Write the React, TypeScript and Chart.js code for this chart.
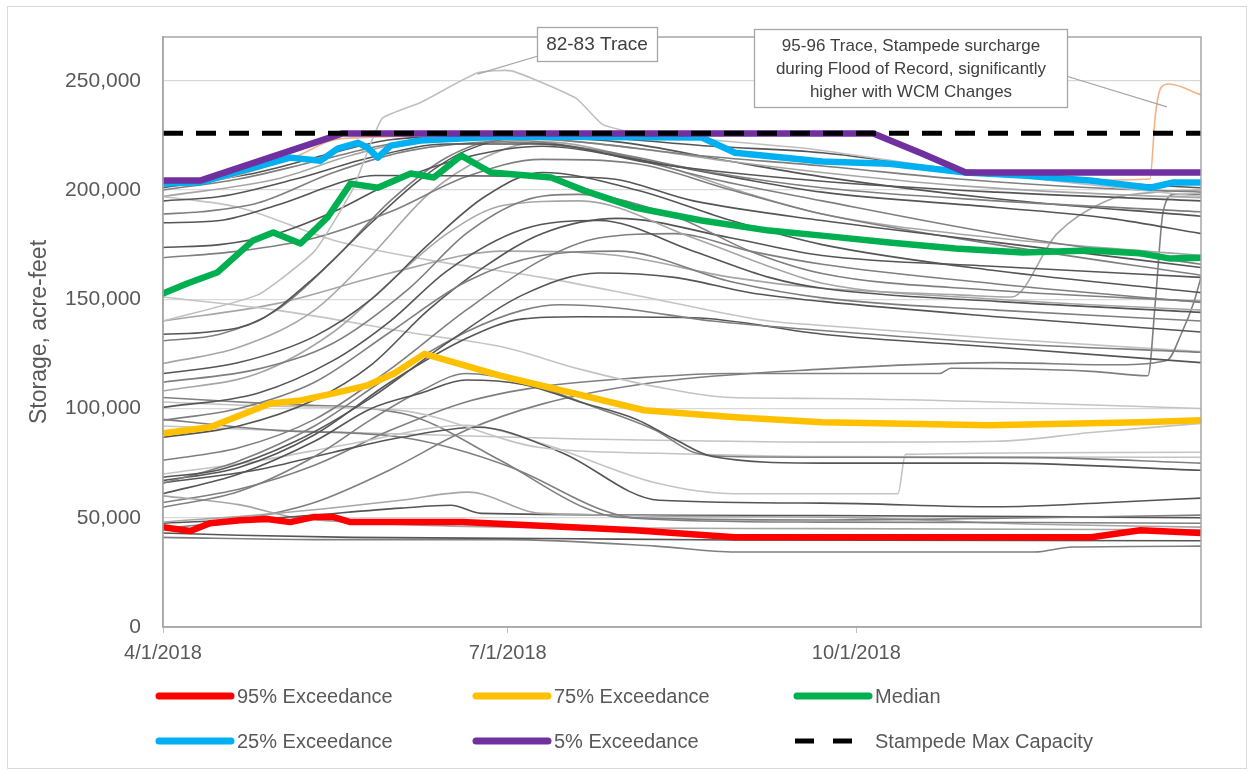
import React, { useEffect, useRef } from "react";
import { Chart, registerables } from "chart.js";
Chart.register(...registerables);

type Pt = [number, number];

// x: days after 4/1/2018, y: storage in thousand acre-feet
const xTickDays = [0, 91, 183];
const xTickLabels = ["4/1/2018", "7/1/2018", "10/1/2018"];
const yTickValues = [0, 50, 100, 150, 200, 250];
const yTickLabels = ["0", "50,000", "100,000", "150,000", "200,000", "250,000"];

const capacity: Pt[] = [[0, 226], [274, 226]];

const p95: Pt[] = [[0, 45.7], [7.2, 43.9], [12.4, 47.5], [20.4, 48.9], [27.5, 49.4], [33.6, 48], [39.7, 50.3], [45, 50.3], [49.5, 48], [79, 48], [124.5, 44.3], [151, 41.1], [245, 41.1], [258, 44.3], [274, 43]];
const p75: Pt[] = [[0, 88.6], [12.4, 91.4], [20.4, 96.9], [28.3, 102.3], [36.3, 103.7], [45, 106.9], [54, 110.6], [61, 116], [69, 125], [89, 115], [127, 99.2], [151, 96], [174, 93.7], [218, 92.3], [258, 93.7], [274, 94.6]];
const median: Pt[] = [[0, 152.6], [6.4, 157.2], [14.3, 162.2], [23.8, 176.9], [29.1, 180.5], [36.3, 175.5], [43.4, 187.4], [49.5, 202.9], [56.7, 201], [65.4, 207.5], [71.5, 205.7], [78.7, 215.7], [86.6, 208], [102.5, 205.7], [111.2, 199.7], [124.5, 192], [142.2, 186], [160, 181.4], [174, 179.1], [191.7, 176], [209.2, 173.2], [227, 171.4], [244.7, 172.3], [258, 171], [265.9, 168.6], [274, 169]];
const p25: Pt[] = [[0, 203], [9.8, 203.5], [33.6, 214.8], [41.6, 213.4], [46.1, 218.9], [51.4, 221.6], [54, 219.4], [56.7, 214.8], [60.1, 220.3], [68, 222.6], [89.2, 224.5], [142.2, 224], [151, 217], [174, 213], [191.7, 212], [211.9, 208], [227, 206.6], [244.7, 204.3], [260.6, 201], [266.7, 203.4], [274, 203.4]];
const p5: Pt[] = [[0, 204.3], [9.8, 204.3], [47.2, 225.8], [187.5, 225.8], [200.5, 216.6], [211.9, 208], [274, 208]];

const trace9596: Pt[] = [[0, 203], [10, 203.5], [34, 214.5], [47, 223.5], [90, 225], [140, 224.5], [151, 217.5], [174, 213.5], [212, 208.5], [245, 204.5], [260.5, 205], [262, 235], [263.5, 247], [265.5, 248.5], [274, 243.5]];
const trace8283: Pt[] = [[0, 140], [25, 152], [40, 172], [50, 200], [55, 222], [58, 233], [68, 240], [83, 253.6], [92, 254.5], [109, 242], [116, 230], [125, 226], [170, 219], [210, 209], [274, 197]];

const g01: Pt[] = [[0, 201], [25, 208], [45, 217], [60, 223], [90, 225], [115, 224], [145, 220], [174, 217], [210, 209], [245, 204], [274, 201]];
const g02: Pt[] = [[0, 200], [20, 205], [40, 213], [60, 221], [85, 225], [110, 222], [140, 216], [174, 211], [210, 205], [245, 201], [274, 199]];
const g03: Pt[] = [[0, 197], [30, 205], [50, 216], [70, 223], [100, 223], [125, 219], [150, 213], [174, 208], [210, 202], [250, 198], [274, 196.5]];
const g04: Pt[] = [[0, 195], [15, 197], [35, 205], [55, 215], [75, 221], [100, 221], [130, 212], [174, 204], [220, 199], [274, 195]];
const g05: Pt[] = [[0, 189], [10, 190], [25, 194], [45, 208], [65, 218], [90, 222], [115, 218], [145, 208], [174, 201], [220, 195], [274, 190]];
const g06: Pt[] = [[0, 185], [15, 186], [30, 193], [50, 205], [56, 206.6], [116, 205.5], [140, 195], [174, 186], [220, 176], [274, 164.5]];
const g07: Pt[] = [[0, 173.7], [15, 175], [30, 180], [45, 190], [60, 203], [80, 215], [100, 220], [125, 214], [150, 206], [174, 199], [220, 192], [250, 187], [274, 180]];
const g08: Pt[] = [[0, 169], [20, 172], [40, 178], [60, 190], [80, 206], [100, 214], [125, 212], [150, 200], [174, 189], [220, 175], [274, 161]];
const g09: Pt[] = [[0, 134], [12, 135], [25, 140], [40, 160], [55, 185], [68, 205], [80, 218], [95, 224], [120, 222], [150, 213], [174, 206], [220, 196], [274, 188]];
const g10: Pt[] = [[0, 131], [15, 134], [30, 145], [45, 168], [60, 195], [75, 215], [90, 223], [115, 218], [145, 205], [174, 195], [220, 180], [274, 166]];
const g11: Pt[] = [[0, 120.6], [20, 128], [40, 145], [55, 170], [70, 198], [85, 215], [100, 222], [130, 212], [155, 198], [174, 189], [220, 178], [274, 170]];
const g12: Pt[] = [[0, 116], [20, 121], [40, 133], [55, 150], [70, 175], [85, 197], [100, 208], [125, 200], [150, 186], [174, 175], [220, 163], [274, 153]];
const g13: Pt[] = [[0, 112], [25, 118], [45, 130], [65, 155], [80, 180], [95, 195], [110, 198], [135, 188], [155, 172], [174, 161.8], [220, 154], [274, 149]];
const g14: Pt[] = [[0, 108], [25, 116], [45, 135], [60, 158], [75, 180], [90, 193], [110, 195], [140, 178], [160, 165], [174, 157.3], [220, 150], [274, 145]];
const g15: Pt[] = [[0, 100.5], [25, 107], [45, 122], [60, 140], [75, 163], [95, 182], [115, 186], [140, 172], [160, 160], [174, 155], [220, 149], [274, 144]];
const g16: Pt[] = [[0, 94.6], [20, 100], [40, 112], [60, 135], [80, 158], [100, 170], [120, 172], [150, 158], [174, 150.6], [220, 145], [274, 140]];
const g17: Pt[] = [[0, 86.8], [20, 92], [40, 104], [55, 120], [70, 145], [85, 165], [100, 180], [120, 187], [150, 178], [174, 170], [220, 165], [274, 160]];
const g18: Pt[] = [[0, 76.3], [20, 82], [40, 95], [60, 118], [80, 145], [100, 168], [115, 178], [135, 180], [155, 172], [174, 166], [220, 157], [274, 148.5]];
const g19: Pt[] = [[0, 68.5], [15, 72], [35, 85], [55, 105], [75, 130], [95, 152], [115, 162], [135, 160], [155, 153], [174, 149], [220, 142], [274, 135]];
const g20: Pt[] = [[0, 65.8], [20, 76], [40, 92], [60, 115], [80, 135], [95, 145], [105, 147.5], [120, 146], [145, 140], [174, 135.7], [220, 130], [274, 125.7]];
const g21: Pt[] = [[0, 67], [20, 73], [40, 88], [60, 112], [80, 132], [95, 141], [110, 142], [140, 141.5], [174, 134], [220, 128], [274, 121]];
const g22: Pt[] = [[0, 151], [30, 145], [68, 134], [90, 128], [110, 118], [130, 110], [150, 105], [174, 104.6], [220, 103], [274, 100]];
const g23: Pt[] = [[0, 61], [20, 70], [40, 85], [55, 100], [68, 107], [80, 113], [95, 111], [110, 103], [125, 95], [135, 86], [145, 78], [174, 75], [220, 75], [274, 71.7]];
const g24: Pt[] = [[0, 54.8], [20, 62], [40, 78], [55, 95], [68, 108], [80, 116], [95, 112], [115, 100], [130, 90], [140, 80], [150, 78], [174, 77.7], [230, 77.5], [274, 75]];
const g25: Pt[] = [[0, 103], [30, 101], [63, 99], [100, 82], [131, 79.5], [174, 78], [274, 77.7]];
const g26: Pt[] = [[0, 66], [25, 72], [45, 80], [63, 86.8], [83, 91.4], [105, 80], [131, 58], [174, 56.7], [220, 55], [250, 57], [274, 59]];
const g27: Pt[] = [[0, 70], [25, 76], [50, 84], [80, 92.3], [100, 84], [130, 66], [151, 61], [194, 61], [196, 79], [274, 80]];
const g28: Pt[] = [[0, 105], [30, 102], [63, 97.8], [89, 76.3], [111, 54.8], [120, 50.3], [174, 49], [230, 50], [274, 51.2]];
const g29: Pt[] = [[0, 95], [30, 90], [63, 86.8], [92, 73], [116, 53.5], [124.5, 49.8], [174, 48], [230, 47.8], [274, 47.5]];
const g30: Pt[] = [[0, 48], [30, 52], [62.8, 58], [80.5, 61.7], [99.8, 52], [174, 50.3], [230, 47], [274, 45.7]];
const g31: Pt[] = [[0, 47.5], [30, 50], [62.8, 54.4], [76, 55.7], [84, 52], [174, 51], [274, 50]];
const g32: Pt[] = [[0, 43], [20, 42], [50, 41], [100, 40.5], [150, 39.8], [274, 39.5]];
const g33: Pt[] = [[0, 41], [40, 40], [90, 40], [130, 37], [151, 34.3], [230, 34.3], [240, 36.6], [274, 37]];
const g34: Pt[] = [[0, 60], [20, 56], [35, 50], [50, 48], [70, 46.5], [100, 45.5], [174, 45], [274, 44.5]];
const g35: Pt[] = [[0, 57], [20, 63], [40, 74], [60, 90], [80, 103], [100, 110], [125, 114], [150, 116], [205, 116], [208, 118.4], [245, 117], [260, 115], [262, 150], [264, 190], [267, 198], [274, 198]];
const g36: Pt[] = [[0, 45], [20, 49], [40, 57], [60, 72], [80, 90], [100, 102], [130, 112], [174, 118], [220, 121], [250, 120], [265, 122], [269, 135], [272, 148], [274, 160]];
const g37: Pt[] = [[0, 140], [30, 148], [60, 162], [90, 172], [120, 170], [150, 160], [174, 155], [210, 152], [224, 151], [236, 180], [249, 195], [262, 199], [274, 200]];
const g38: Pt[] = [[0, 92], [30, 90], [70, 88], [110, 86], [150, 85], [174, 84.6], [220, 85], [245, 89], [274, 93.2]];
const g39: Pt[] = [[0, 197], [20, 192], [45, 177], [70, 168], [100, 160], [130, 150], [160, 140], [174, 138], [220, 132], [274, 126]];

const DARK = "#555555";
const MID = "#7f7f7f";
const LIGHT = "#a6a6a6";
const PALE = "#c4c4c4";

const grayTraces: [Pt[], string][] = [
  [g01, DARK], [g02, MID], [g03, LIGHT], [g04, DARK], [g05, MID], [g06, DARK], [g07, DARK], [g08, MID],
  [g09, DARK], [g10, MID], [g11, LIGHT], [g12, DARK], [g13, MID], [g14, LIGHT], [g15, DARK], [g16, MID],
  [g17, DARK], [g18, MID], [g19, DARK], [g20, MID], [g21, DARK], [g22, PALE], [g23, DARK], [g24, MID],
  [g25, PALE], [g26, DARK], [g27, PALE], [g28, MID], [g29, MID], [g30, LIGHT], [g31, DARK], [g32, DARK],
  [g33, MID], [g34, LIGHT], [g35, MID], [g36, MID], [g37, LIGHT], [g38, PALE], [g39, PALE],
];

const W = 1249;
const H = 771;
const FONT = "'Liberation Sans', Arial, sans-serif";
const TEXT = "#595959";

const legendItems = [
  { label: "95% Exceedance", color: "#ff0000", x: 157, y: 696, dash: false },
  { label: "75% Exceedance", color: "#ffc000", x: 474, y: 696, dash: false },
  { label: "Median", color: "#00b050", x: 795, y: 696, dash: false },
  { label: "25% Exceedance", color: "#00b0f0", x: 157, y: 741, dash: false },
  { label: "5% Exceedance", color: "#7030a0", x: 474, y: 741, dash: false },
  { label: "Stampede Max Capacity", color: "#000000", x: 795, y: 741, dash: true },
];

export default function App() {
  const ref = useRef<HTMLCanvasElement>(null);

  useEffect(() => {
    document.body.style.margin = "0";
    const canvas = ref.current!;
    const toXY = (pts: Pt[]) => pts.map(([x, y]) => ({ x, y }));
    const thick = (label: string, pts: Pt[], color: string) => ({
      label,
      data: toXY(pts),
      borderColor: color,
      backgroundColor: color,
      borderWidth: 6.5,
      pointRadius: 0,
      tension: 0,
      borderJoinStyle: "round",
      borderCapStyle: "round",
      fill: false,
    });
    const datasets: any[] = [
      {
        label: "Stampede Max Capacity",
        data: toXY(capacity),
        borderColor: "#000000",
        borderWidth: 5,
        borderDash: [20, 13],
        pointRadius: 0,
        fill: false,
      },
      thick("5% Exceedance", p5, "#7030a0"),
      thick("25% Exceedance", p25, "#00b0f0"),
      thick("Median", median, "#00b050"),
      thick("75% Exceedance", p75, "#ffc000"),
      thick("95% Exceedance", p95, "#ff0000"),
      {
        label: "95-96 Trace",
        data: toXY(trace9596),
        borderColor: "#f4b183",
        borderWidth: 1.6,
        pointRadius: 0,
        cubicInterpolationMode: "monotone",
        fill: false,
      },
      {
        label: "82-83 Trace",
        data: toXY(trace8283),
        borderColor: "#bfbfbf",
        borderWidth: 1.6,
        pointRadius: 0,
        tension: 0.15,
        fill: false,
      },
      ...grayTraces.map(([pts, c], i) => ({
        label: "trace" + (i + 1),
        data: toXY(pts),
        borderColor: c,
        borderWidth: 1.6,
        pointRadius: 0,
        cubicInterpolationMode: "monotone",
        fill: false,
      })),
    ];

    const decor = {
      id: "decor",
      beforeDraw(chart: any) {
        const ctx = chart.ctx;
        ctx.save();
        ctx.fillStyle = "#ffffff";
        ctx.fillRect(0, 0, W, H);
        ctx.strokeStyle = "#d9d9d9";
        ctx.lineWidth = 1;
        ctx.strokeRect(7.5, 6.5, W - 10, H - 9);
        ctx.restore();
      },
      afterDraw(chart: any) {
        const ctx = chart.ctx;
        const a = chart.chartArea;
        const xs = chart.scales.x;
        const ys = chart.scales.y;
        ctx.save();
        // plot border
        ctx.strokeStyle = "#a6a6a6";
        ctx.lineWidth = 1.5;
        ctx.strokeRect(a.left, a.top, a.right - a.left, a.bottom - a.top);

        // leader lines
        ctx.strokeStyle = "#a6a6a6";
        ctx.lineWidth = 1.3;
        ctx.beginPath();
        ctx.moveTo(538, 56);
        ctx.lineTo(xs.getPixelForValue(83), ys.getPixelForValue(253));
        ctx.moveTo(1066, 76);
        ctx.lineTo(xs.getPixelForValue(265), ys.getPixelForValue(238));
        ctx.stroke();

        // annotation boxes
        ctx.fillStyle = "#ffffff";
        ctx.strokeStyle = "#a6a6a6";
        ctx.lineWidth = 1.3;
        ctx.fillRect(537, 27, 120, 34);
        ctx.strokeRect(537.5, 27.5, 120, 34);
        ctx.fillRect(754, 29, 313, 78);
        ctx.strokeRect(754.5, 29.5, 313, 78);

        ctx.fillStyle = "#404040";
        ctx.textAlign = "center";
        ctx.textBaseline = "middle";
        ctx.font = `19px ${FONT}`;
        ctx.fillText("82-83 Trace", 597, 45);
        ctx.font = `17px ${FONT}`;
        ctx.fillText("95-96 Trace, Stampede surcharge", 911, 46);
        ctx.fillText("during Flood of Record, significantly", 911, 69);
        ctx.fillText("higher with WCM Changes", 911, 92);

        // legend
        ctx.textAlign = "left";
        ctx.font = `20px ${FONT}`;
        for (const it of legendItems) {
          ctx.strokeStyle = it.color;
          if (it.dash) {
            ctx.lineWidth = 5;
            ctx.lineCap = "butt";
            ctx.beginPath();
            ctx.moveTo(it.x, it.y);
            ctx.lineTo(it.x + 19, it.y);
            ctx.moveTo(it.x + 38, it.y);
            ctx.lineTo(it.x + 57, it.y);
            ctx.stroke();
          } else {
            ctx.lineWidth = 7;
            ctx.lineCap = "round";
            ctx.beginPath();
            ctx.moveTo(it.x + 2, it.y);
            ctx.lineTo(it.x + 74, it.y);
            ctx.stroke();
          }
          ctx.fillStyle = TEXT;
          ctx.fillText(it.label, it.x + 80, it.y + 1);
        }
        ctx.restore();
      },
    };

    const chart = new Chart(canvas, {
      type: "line",
      data: { datasets },
      options: {
        animation: false,
        responsive: false,
        maintainAspectRatio: false,
        events: [],
        layout: { padding: { left: 0, right: 48, top: 37, bottom: 100 } },
        plugins: { legend: { display: false }, tooltip: { enabled: false } },
        scales: {
          x: {
            type: "linear",
            min: 0,
            max: 274,
            afterBuildTicks: (s: any) => {
              s.ticks = xTickDays.map((v) => ({ value: v }));
            },
            afterFit: (s: any) => {
              s.height = 44;
            },
            ticks: {
              autoSkip: false,
              maxRotation: 0,
              padding: 8,
              color: TEXT,
              font: { family: FONT, size: 20 },
              callback: (_v: any, i: number) => xTickLabels[i],
            },
            grid: { drawOnChartArea: false, tickLength: 6, color: "#bfbfbf" },
            border: { color: "#a6a6a6", width: 1.5 },
          },
          y: {
            type: "linear",
            min: 0,
            max: 270,
            afterBuildTicks: (s: any) => {
              s.ticks = yTickValues.map((v) => ({ value: v }));
            },
            afterFit: (s: any) => {
              s.width = 163;
            },
            ticks: {
              padding: 22,
              color: TEXT,
              font: { family: FONT, size: 21 },
              callback: (_v: any, i: number) => yTickLabels[i],
            },
            grid: { color: "#d9d9d9", lineWidth: 1.3, drawTicks: false },
            border: { color: "#a6a6a6", width: 1.5 },
            title: {
              display: true,
              text: "Storage, acre-feet",
              color: TEXT,
              font: { family: FONT, size: 23 },
              padding: { top: 26, bottom: 0 },
            },
          },
        },
      },
      plugins: [decor],
    } as any);
    return () => chart.destroy();
  }, []);

  return (
    <canvas
      ref={ref}
      width={W}
      height={H}
      style={{ display: "block", width: W, height: H }}
    />
  );
}
